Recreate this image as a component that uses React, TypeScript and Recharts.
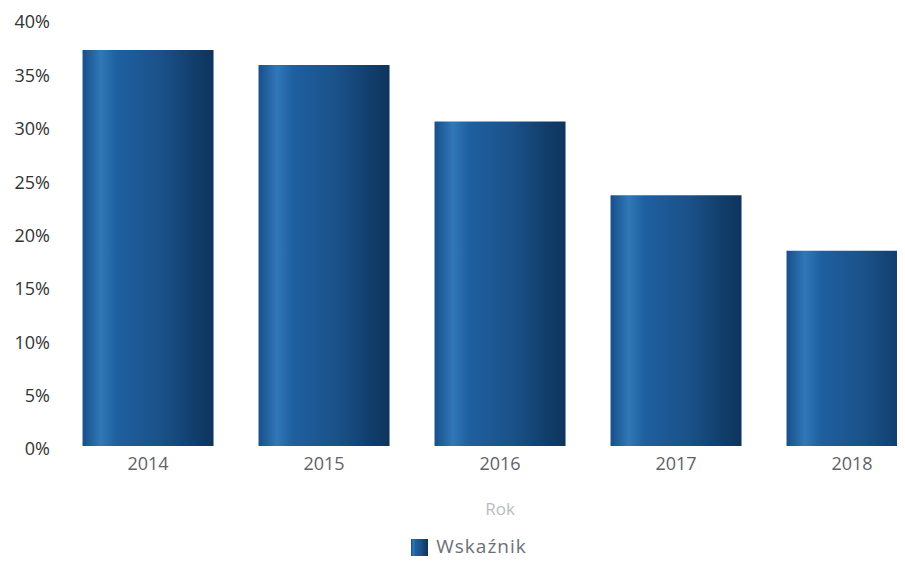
import React from 'react'
import { BarChart, Bar, XAxis, YAxis, Legend } from 'recharts'

const years = ['2014', '2015', '2016', '2017', '2018']
const wskaznik = [37.1, 35.7, 30.4, 23.5, 18.3]
const yTicks = [0, 5, 10, 15, 20, 25, 30, 35, 40]

const data = years.map((rok, i) => ({ rok, wskaznik: wskaznik[i] }))

const font = '"Open Sans", sans-serif'

export default function App() {
  return (
    <div style={{ width: 897, height: 554, overflow: 'hidden', fontFamily: font }}>
      <BarChart
        width={935}
        height={561}
        data={data}
        margin={{ top: 11, right: 3, left: 0, bottom: 0 }}
        barCategoryGap="12.8%"
      >
        <defs>
          <linearGradient id="barShade" x1="0" y1="0" x2="1" y2="0">
            <stop offset="0%" stopColor="#184f8a" />
            <stop offset="14%" stopColor="#3078b7" />
            <stop offset="26%" stopColor="#1f60a0" />
            <stop offset="60%" stopColor="#1a5189" />
            <stop offset="86%" stopColor="#113d6b" />
            <stop offset="100%" stopColor="#0e345d" />
          </linearGradient>
        </defs>
        <XAxis
          dataKey="rok"
          axisLine={false}
          tickLine={false}
          tickMargin={5}
          height={87}
          tick={{ fill: '#5f6368', fontSize: 18, fontFamily: font }}
          label={{ value: 'Rok', position: 'insideBottom', offset: 18, fill: '#b8bcc2', fontSize: 17, fontFamily: font }}
        />
        <YAxis
          domain={[0, 40]}
          ticks={yTicks}
          axisLine={false}
          tickLine={false}
          tickMargin={4}
          width={52}
          tickFormatter={(v) => `${v}%`}
          tick={{ fill: '#333', fontSize: 18, fontFamily: font, dy: 3 }}
        />
        <Legend
          verticalAlign="bottom"
          iconType="square"
          iconSize={17}
          wrapperStyle={{ height: 36, fontFamily: font, fontSize: 19, letterSpacing: 1 }}
          formatter={(value) => <span style={{ color: '#6b6f75', marginLeft: 4 }}>{value}</span>}
        />
        <Bar dataKey="wskaznik" name="Wskaźnik" fill="url(#barShade)" isAnimationActive={false} />
      </BarChart>
    </div>
  )
}
